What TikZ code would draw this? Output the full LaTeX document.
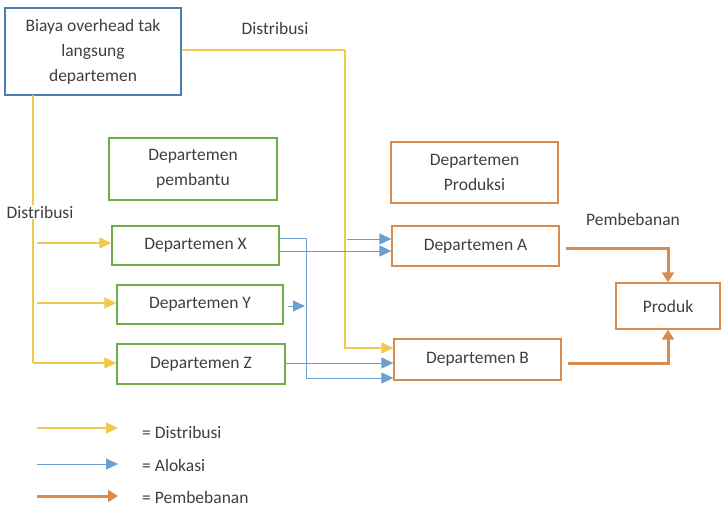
\documentclass[tikz,border=0pt]{standalone}
\usepackage{fontspec}
\setmainfont{Carlito}
\usetikzlibrary{arrows.meta,calc}
\definecolor{txt}{HTML}{3F3F3F}
\definecolor{ylw}{HTML}{F2C94C}
\definecolor{blu}{HTML}{6A9FCF}
\definecolor{org}{HTML}{D98B4E}
\definecolor{grn}{HTML}{70AD47}
\definecolor{topb}{HTML}{4A7FB0}
\begin{document}
\begin{tikzpicture}[x=1pt,y=-1pt,
  font=\fontsize{17.5}{25}\selectfont, text=txt,
  box/.style={draw, rectangle, line width=1.3pt, align=center, inner sep=0pt},
  gbox/.style={box, draw=grn},
  obox/.style={box, draw=org},
  lbl/.style={inner sep=1pt},
  yarr/.style={draw=ylw, line width=1.2pt, -{Triangle[length=12pt,width=11pt,fill=ylw]}},
  barr/.style={draw=blu, line width=1pt, -{Triangle[length=12pt,width=11pt,fill=blu]}},
  oarr/.style={draw=org, line width=3pt, -{Triangle[length=10pt,width=12pt,fill=org]}},
  yline/.style={draw=ylw, line width=1.2pt},
  bline/.style={draw=blu, line width=1pt}]
\useasboundingbox (0,0) rectangle (722,508);

% boxes
\node[box, draw=topb, minimum width=176pt, minimum height=87pt] (top) at (93,51.5)
  {Biaya overhead tak\\langsung\\departemen};
\node[gbox, minimum width=168pt, minimum height=62pt] (pemb) at (193,169) {Departemen\\pembantu};
\node[obox, minimum width=167pt, minimum height=61pt] (prodk) at (474.5,172.5) {Departemen\\Produksi};
\node[gbox, minimum width=167pt, minimum height=39pt] (X) at (195.5,245.5) {Departemen X};
\node[gbox, minimum width=166pt, minimum height=39pt] (Y) at (200,304.5) {Departemen Y};
\node[gbox, minimum width=168pt, minimum height=40pt] (Z) at (201,364) {Departemen Z};
\node[obox, minimum width=167pt, minimum height=40pt] (A) at (475.5,246) {Departemen A};
\node[obox, minimum width=167pt, minimum height=41pt] (B) at (477.5,359.5) {Departemen B};
\node[obox, minimum width=104pt, minimum height=46pt] (P) at (668,306) {Produk};

% coordinates
\coordinate (ytop) at (33,95);
\coordinate (ybot) at (33,363);
\coordinate (ycorner) at (345,50);
\coordinate (bv) at (306,238);
\coordinate (bvb) at (306,378);
\coordinate (ashort) at (347,239);
\coordinate (ybend) at (305,306);

% yellow distribution
\draw[yline] (ytop) -- (ybot);
\node[lbl, fill=white] (dl) at (40,212) {Distribusi};
\draw[yarr] (37,243) -- (37,243 -| X.west);
\draw[yarr] (37,303) -- (37,303 -| Y.west);
\draw[yarr] (ybot) -- (ybot -| Z.west);
\draw[yline] (top.east |- ycorner) -- (ycorner);
\draw[yarr] (ycorner) -- (ycorner |- 0,348) -- (345,348 -| B.west);
\node[lbl] (dt) at (275,28) {Distribusi};

% blue allocation
\draw[bline] (X.east |- bv) -- (bv);
\draw[barr] (bv) -- (bvb) -- (bvb -| B.west);
\draw[barr] (279,251) -- (279,251 -| A.west);
\draw[barr] (ashort) -- (ashort -| A.west);
\draw[barr] ([xshift=4pt]Y.east |- ybend) -- (ybend);
\draw[barr] (Z.east |- 0,363) -- (285,363 -| B.west);

% orange
\node[lbl] (pl) at (633,219) {Pembebanan};
\draw[oarr, shorten <=6pt] ([yshift=-2pt]A.east) -| (P.north);
\draw[oarr, shorten <=6pt] ([yshift=-3.5pt]B.east) -| (P.south);

% legend
\coordinate (l1a) at (37,428); \coordinate (l1b) at (118,428);
\coordinate (l2a) at (37,464); \coordinate (l2b) at (118,464);
\coordinate (l3a) at (37,496); \coordinate (l3b) at (118,496);
\draw[yarr] (l1a) -- (l1b);
\draw[barr] (l2a) -- (l2b);
\draw[oarr] (l3a) -- (l3b);
\node[lbl, anchor=west] (t1) at (141,432) {= Distribusi};
\node[lbl, anchor=west] (t2) at (141,465) {= Alokasi};
\node[lbl, anchor=west] (t3) at (141,497) {= Pembebanan};
\end{tikzpicture}
\end{document}
